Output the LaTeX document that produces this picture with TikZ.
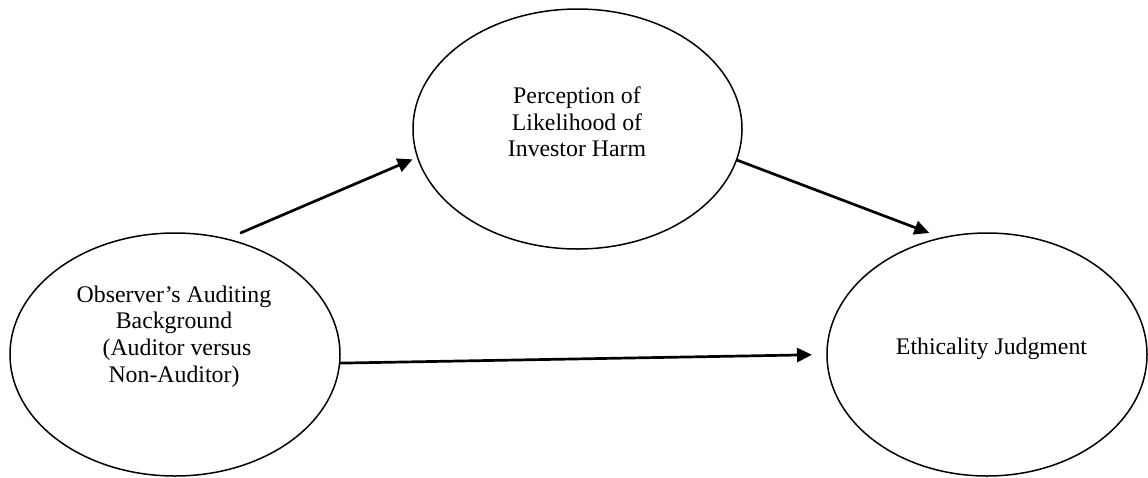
\documentclass[tikz,border=0pt]{standalone}
\usepackage{fontspec}
\setmainfont{Liberation Serif}
\usetikzlibrary{arrows.meta,shapes.geometric}
\begin{document}
\begin{tikzpicture}[x=1pt,y=-1pt,
  bubble/.style={draw, ellipse, line width=1.5pt, inner sep=0pt, outer sep=0pt},
  link/.style={line width=2.7pt, -{Triangle[length=15pt,width=14pt]}},
  lbl/.style={inner sep=0pt, anchor=base, font=\fontsize{23.8pt}{26.8pt}\selectfont}]
\useasboundingbox (0,0) rectangle (1148,477);

% the three constructs
\node[bubble, minimum width=330pt, minimum height=243pt] (L) at (175,354.5) {};
\node[bubble, minimum width=329pt, minimum height=240pt] (T) at (577.5,129) {};
\node[bubble, minimum width=320pt, minimum height=243pt] (R) at (987,354.5) {};

% their labels
\node[lbl] (Ltext) at ([shift={(-1,-52.5)}]L.center)
  {\begin{tabular}[t]{@{}c@{}}Observer’s Auditing\\Background\\\hspace*{6pt}(Auditor versus\\Non-Auditor)\end{tabular}};
\node[lbl] (Ttext) at ([shift={(-0.5,-25.7)}]T.center)
  {\begin{tabular}[t]{@{}c@{}}Perception of\\Likelihood of\\Investor Harm\end{tabular}};
\node[lbl] (Rtext) at ([shift={(4.5,-0.5)}]R.center) {Ethicality Judgment};

% paths of influence
\draw[link, shorten <=15pt, shorten >=5.5pt] (L.66) -- (T.190.5);
\draw[link, shorten >=13.8pt] (T.349.2) -- (R.111.15);
\draw[link, shorten >=15pt] (L.357) -- (R.180.5);
\end{tikzpicture}
\end{document}
